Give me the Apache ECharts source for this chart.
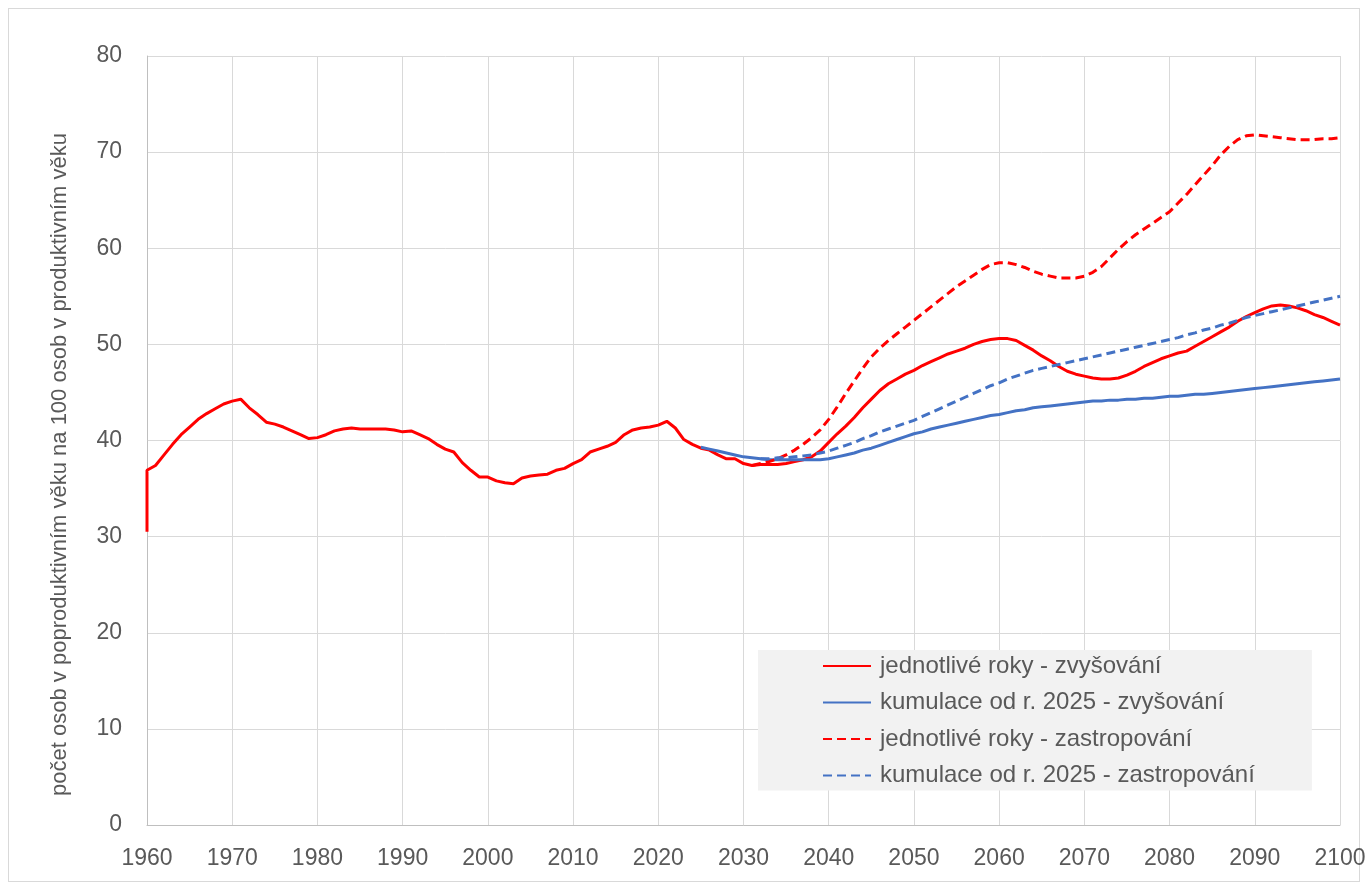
<!DOCTYPE html>
<html>
<head>
<meta charset="utf-8">
<script src="https://cdn.jsdelivr.net/npm/echarts@6/dist/echarts.min.js"></script>
<style>
  html, body { margin: 0; padding: 0; background: #fff; }
  #frame { position: absolute; left: 8px; top: 8px; width: 1352px; height: 874px; border: 1px solid #d9d9d9; box-sizing: border-box; }
  #chart { position: absolute; left: 0; top: 0; width: 1369px; height: 890px; }
</style>
</head>
<body>
<div id="frame"></div>
<div id="chart"></div>
<script>
// historical values 1960..2025 (first year also has the low starting value)
const histStartYear = 1960
const histFirstLow = 30.5
const histValues = [
  36.9, 37.4, 38.5, 39.6, 40.6, 41.4, 42.2, 42.8, 43.3, 43.8,
  44.1, 44.3, 43.4, 42.7, 41.9, 41.7, 41.4, 41.0, 40.6, 40.2,
  40.3, 40.6, 41.0, 41.2, 41.3, 41.2, 41.2, 41.2, 41.2, 41.1,
  40.9, 41.0, 40.6, 40.2, 39.6, 39.1, 38.8, 37.7, 36.9, 36.2,
  36.2, 35.8, 35.6, 35.5, 36.1, 36.3, 36.4, 36.5, 36.9, 37.1,
  37.6, 38.0, 38.8, 39.1, 39.4, 39.8, 40.6, 41.1, 41.3, 41.4,
  41.6, 42.0, 41.3, 40.1, 39.6, 39.2
]

// jednotlivé roky - zvyšování, 2026..2100
const redSolidStart = 2026
const redSolid = [
  39.0, 38.5, 38.1, 38.1, 37.6, 37.4, 37.5, 37.5, 37.5, 37.6,
  37.8, 38.0, 38.3, 38.9, 39.8, 40.7, 41.5, 42.4, 43.4, 44.3,
  45.2, 45.9, 46.4, 46.9, 47.3, 47.8, 48.2, 48.6, 49.0, 49.3,
  49.6, 50.0, 50.3, 50.5, 50.6, 50.6, 50.4, 49.9, 49.4, 48.8,
  48.3, 47.7, 47.2, 46.9, 46.7, 46.5, 46.4, 46.4, 46.5, 46.8,
  47.2, 47.7, 48.1, 48.5, 48.8, 49.1, 49.3, 49.8, 50.3, 50.8,
  51.3, 51.8, 52.4, 52.9, 53.3, 53.7, 54.0, 54.1, 54.0, 53.8,
  53.5, 53.1, 52.8, 52.4, 52.0
]

// kumulace od r. 2025 - zvyšování, 2025..2100
const blueSolidStart = 2025
const blueSolid = [
  39.3, 39.1, 38.9, 38.7, 38.5, 38.3, 38.2, 38.1, 38.0, 38.0,
  38.0, 38.0, 38.0, 38.0, 38.0, 38.1, 38.3, 38.5, 38.7, 39.0,
  39.2, 39.5, 39.8, 40.1, 40.4, 40.7, 40.9, 41.2, 41.4, 41.6,
  41.8, 42.0, 42.2, 42.4, 42.6, 42.7, 42.9, 43.1, 43.2, 43.4,
  43.5, 43.6, 43.7, 43.8, 43.9, 44.0, 44.1, 44.1, 44.2, 44.2,
  44.3, 44.3, 44.4, 44.4, 44.5, 44.6, 44.6, 44.7, 44.8, 44.8,
  44.9, 45.0, 45.1, 45.2, 45.3, 45.4, 45.5, 45.6, 45.7, 45.8,
  45.9, 46.0, 46.1, 46.2, 46.3, 46.4
]

// jednotlivé roky - zastropování, 2031..2100
const redDashStart = 2031
const redDash = [
  37.4, 37.6, 37.8, 38.1, 38.5, 39.0, 39.6, 40.3, 41.1, 42.2,
  43.5, 44.9, 46.2, 47.5, 48.7, 49.6, 50.4, 51.1, 51.8, 52.5,
  53.2, 53.9, 54.6, 55.3, 56.0, 56.6, 57.2, 57.8, 58.3, 58.5,
  58.5, 58.3, 58.0, 57.6, 57.3, 57.1, 56.9, 56.9, 56.9, 57.1,
  57.5, 58.1, 59.0, 59.9, 60.7, 61.4, 62.0, 62.6, 63.2, 63.8,
  64.7, 65.6, 66.6, 67.6, 68.6, 69.7, 70.6, 71.3, 71.7, 71.8,
  71.7, 71.6, 71.5, 71.4, 71.3, 71.3, 71.3, 71.4, 71.4, 71.5
]

// kumulace od r. 2025 - zastropování, 2032..2100
const blueDashStart = 2032
const blueDash = [
  38.1, 38.1, 38.2, 38.2, 38.3, 38.4, 38.5, 38.7, 38.9, 39.2,
  39.5, 39.8, 40.2, 40.5, 40.9, 41.2, 41.5, 41.8, 42.1, 42.5,
  42.9, 43.3, 43.7, 44.1, 44.5, 44.9, 45.3, 45.7, 46.0, 46.4,
  46.7, 47.0, 47.3, 47.5, 47.7, 47.9, 48.1, 48.3, 48.5, 48.7,
  48.9, 49.1, 49.3, 49.5, 49.7, 49.9, 50.1, 50.3, 50.5, 50.7,
  51.0, 51.2, 51.5, 51.7, 52.0, 52.2, 52.5, 52.8, 53.0, 53.2,
  53.4, 53.6, 53.8, 54.0, 54.2, 54.4, 54.6, 54.8, 55.0
]

const seriesNames = [
  'jednotlivé roky - zvyšování',
  'kumulace od r. 2025 - zvyšování',
  'jednotlivé roky - zastropování',
  'kumulace od r. 2025 - zastropování'
]

const RED = '#ff0000'
const BLUE = '#4472c4'
const GREY_TEXT = '#595959'

const toPairs = (start, values) => values.map((v, i) => [start + i, v])

const redSolidData = [[histStartYear, histFirstLow]]
  .concat(toPairs(histStartYear, histValues))
  .concat(toPairs(redSolidStart, redSolid))

const chart = echarts.init(document.getElementById('chart'))

const lineSeries = (name, data, color, dashed) => ({
  name,
  type: 'line',
  data,
  showSymbol: false,
  symbol: 'none',
  smooth: false,
  lineStyle: { width: 3, color, type: dashed ? [9, 5] : 'solid', cap: 'butt' },
  itemStyle: { color }
})

chart.setOption({
  animation: false,
  textStyle: { fontFamily: 'Liberation Sans' },
  grid: { left: 147, right: 29, top: 56, bottom: 65 },
  legend: {
    data: seriesNames,
    orient: 'vertical',
    left: 758,
    top: 650,
    backgroundColor: '#f2f2f2',
    padding: [4, 57, 3, 64],
    itemWidth: 48,
    itemHeight: 14,
    itemGap: 12.5,
    itemStyle: { opacity: 0 },
    textStyle: { fontSize: 24, color: GREY_TEXT, padding: [0, 0, 0, 4] }
  },
  xAxis: {
    type: 'value',
    min: 1960,
    max: 2100,
    interval: 10,
    axisLine: { show: true, lineStyle: { color: '#bfbfbf', width: 1 } },
    axisTick: { show: false },
    splitLine: { show: true, lineStyle: { color: '#d9d9d9', width: 1 } },
    axisLabel: { fontSize: 23, color: GREY_TEXT, margin: 22, formatter: v => String(v) }
  },
  yAxis: {
    type: 'value',
    min: 0,
    max: 80,
    interval: 10,
    name: 'počet osob v poproduktivním věku na 100 osob v produktivním věku',
    nameLocation: 'middle',
    nameGap: 76,
    nameTextStyle: { fontSize: 22, color: GREY_TEXT, padding: [0, 48, 0, 0] },
    axisLine: { show: true, lineStyle: { color: '#bfbfbf', width: 1 } },
    axisTick: { show: false },
    splitLine: { show: true, lineStyle: { color: '#d9d9d9', width: 1 } },
    axisLabel: { fontSize: 23, color: GREY_TEXT, margin: 25 }
  },
  series: [
    lineSeries(seriesNames[0], redSolidData, RED, false),
    lineSeries(seriesNames[1], toPairs(blueSolidStart, blueSolid), BLUE, false),
    lineSeries(seriesNames[2], toPairs(redDashStart, redDash), RED, true),
    lineSeries(seriesNames[3], toPairs(blueDashStart, blueDash), BLUE, true)
  ]
})
</script>
</body>
</html>
